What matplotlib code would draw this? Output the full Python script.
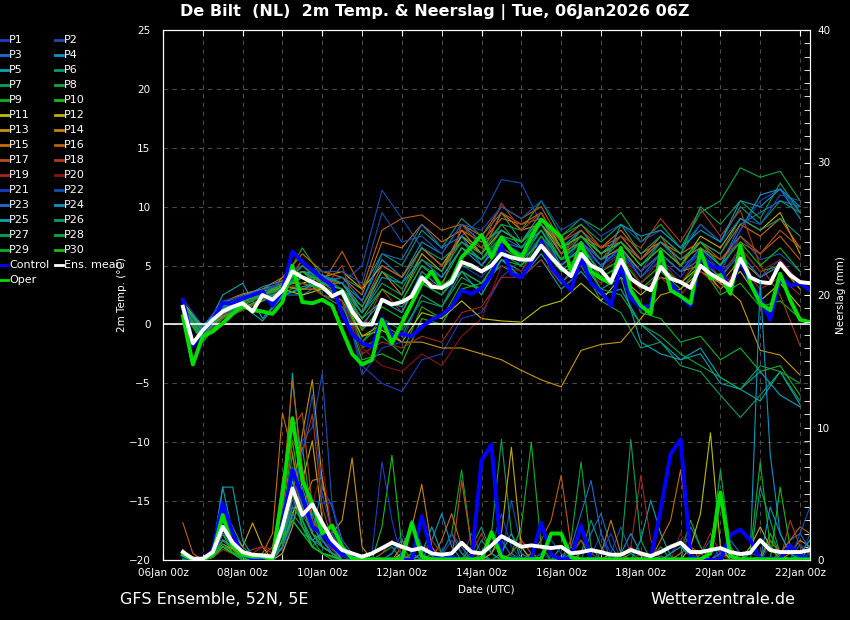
import matplotlib
matplotlib.use("Agg")
import matplotlib.pyplot as plt
import numpy as np
from matplotlib.lines import Line2D
from matplotlib.ticker import MultipleLocator


# forecast steps, days after 06Jan 00z
T6 = np.arange(0.5, 16.26, 0.25)   # 6-hourly (control, oper, mean, precip)
T12 = np.arange(0.5, 16.01, 0.5)   # 12-hourly (member temperatures)

DATE_LABELS = ["06Jan 00z", "08Jan 00z", "10Jan 00z", "12Jan 00z", "14Jan 00z",
               "16Jan 00z", "18Jan 00z", "20Jan 00z", "22Jan 00z"]

# --- 2m temperature, 6-hourly ---
CONTROL_TEMP = [2.1, -1.8, -0.6, 0.4, 1.8, 1.8, 2.2, 2.5, 2.8, 1.6, 2.9, 6.2, 5.3, 4.6, 3.9, 3.3,
                0.9, -0.8, -1.6, -1.9, 0.5, -1.0, -0.8, -1.0, -0.2, 0.4, 0.8, 1.5, 2.9, 2.6, 3.1,
                4.2, 6.7, 4.3, 4.0, 5.3, 7.0, 4.9, 3.8, 2.9, 5.7, 3.5, 2.8, 1.6, 5.0, 2.2, 1.4,
                1.6, 5.7, 3.5, 2.4, 1.6, 5.7, 4.9, 4.8, 2.9, 5.5, 3.5, 2.2, 0.4, 4.0, 3.3, 3.5, 2.9]
OPER_TEMP = [0.7, -3.4, -1.0, -0.6, 0.1, 0.9, 1.6, 1.2, 1.1, 0.9, 1.9, 5.0, 1.9, 1.8, 2.1, 1.6,
             -0.5, -2.5, -3.4, -3.0, 0.4, -1.6, 0.1, 1.8, 3.5, 4.5, 3.1, 3.8, 5.7, 6.6, 7.6,
             5.7, 7.4, 6.3, 5.7, 7.4, 8.9, 8.2, 7.4, 4.5, 6.9, 4.5, 3.9, 3.5, 6.5, 2.9, 1.6,
             0.9, 6.2, 2.9, 2.4, 1.8, 6.3, 3.9, 4.2, 2.6, 6.7, 3.5, 1.8, 1.2, 4.3, 2.1, 0.4, 0.2]
MEAN_TEMP = [1.5, -1.6, -0.5, 0.4, 1.1, 1.5, 1.8, 1.1, 2.5, 2.1, 2.9, 4.5, 4.0, 3.6, 3.2, 2.4,
             2.8, 1.1, 0.0, 0.0, 2.1, 1.7, 1.9, 2.4, 4.0, 3.2, 3.1, 3.6, 5.3, 5.0, 4.5,
             5.0, 6.0, 5.7, 5.5, 5.5, 6.7, 5.7, 4.8, 4.1, 6.0, 5.0, 4.6, 3.6, 5.5, 3.9, 3.3,
             2.9, 4.9, 3.9, 3.6, 3.1, 5.0, 4.3, 3.8, 3.3, 5.6, 4.0, 3.6, 3.5, 5.2, 4.2, 3.6, 3.5]

# --- precipitation (mm / 6h) ---
CONTROL_PRECIP = [0.3, 0, 0, 0.75, 4.3, 2.0, 0.4, 0.1, 0.05, 0.05, 2.8, 6.8, 4.7, 2.5, 2.0, 1.1,
                  0.4, 0.15, 0.05, 0.05, 0.05, 0.05, 0, 0, 3.3, 0.5, 0.1, 0.25, 0, 0, 7.5,
                  8.7, 0.25, 0.1, 0.1, 0.1, 2.8, 0.4, 0.05, 0.1, 2.6, 0.1, 0, 0, 0, 0, 0,
                  0.1, 3.8, 8.0, 9.1, 0.25, 0, 0, 0, 1.9, 2.3, 1.5, 0.1, 0.1, 0.1, 1.1, 0.25, 0.1]
OPER_PRECIP = [0.4, 0, 0, 0.5, 3.4, 1.0, 0.4, 0.25, 0.25, 0.05, 5.0, 10.7, 6.0, 4.3, 2.0, 2.6,
               1.0, 0.1, 0.05, 0.05, 0.05, 0.05, 0.05, 2.8, 0.25, 0.05, 0.05, 0.05, 0.05, 0.05, 0.05,
               2.1, 0.25, 0.05, 0.05, 0.05, 0.1, 2.0, 2.0, 0.2, 0.05, 0.05, 0.05, 0.05, 0.05, 0.05, 0.05,
               0.05, 0.05, 0.05, 0.05, 0.05, 0.05, 0.5, 5.1, 0.3, 0.05, 0.05, 0.05, 0.05, 0.05, 0.05, 0.05, 0.05]
MEAN_PRECIP = [0.6, 0.1, 0.1, 0.6, 2.5, 1.3, 0.6, 0.4, 0.35, 0.25, 2.5, 5.4, 3.4, 4.2, 2.8, 1.5,
               0.75, 0.5, 0.25, 0.5, 0.9, 1.3, 1.0, 0.75, 0.9, 0.5, 0.4, 0.5, 1.3, 0.6, 0.5,
               1.1, 1.8, 1.4, 1.0, 1.1, 1.0, 0.9, 1.0, 0.5, 0.6, 0.75, 0.6, 0.4, 0.4, 0.75, 0.5,
               0.3, 0.6, 1.0, 1.3, 0.6, 0.6, 0.75, 0.9, 0.6, 0.45, 0.55, 1.5, 0.75, 0.6, 0.6, 0.6, 0.75]

# --- members P1..P30, 2m temperature, 12-hourly ---
MEMBER_TEMP = [
    [1.8, -0.6, 1.5, 2.0, 2.3, 3.0, 3.5, 3.0, 2.0, -3.5, -5.0, -5.7, -3.0, -2.5, 0.5, 1.0, 4.0, 5.5, 7.0, 5.0, 6.5, 5.0, 6.0, 4.0, 5.5, 4.0, 6.5, 4.5, 6.0, 4.0, 5.5, 3.5],
    [1.5, -0.3, 1.0, 1.5, 3.0, 3.5, 4.0, 4.0, 3.5, 5.0, 11.4, 9.0, 6.5, 5.0, 7.5, 9.0, 12.3, 12.0, 8.5, 6.0, 7.0, 5.0, 6.5, 4.5, 7.0, 5.0, 6.0, 4.5, 7.5, 5.5, 6.0, 4.5],
    [1.2, -0.8, 0.8, 1.5, 2.0, 2.5, 2.5, 3.5, 3.0, 1.0, 3.0, 2.0, 5.0, 4.0, 6.5, 5.5, 7.0, 6.5, 8.0, 5.5, 7.0, 5.5, 6.5, 4.5, 6.0, 4.5, 6.5, 5.0, 8.5, 9.5, 10.5, 10.0],
    [1.6, -0.2, 1.8, 2.5, 3.0, 3.5, 4.5, 4.0, 3.5, 2.0, 5.5, 4.0, 7.0, 6.0, 8.5, 7.0, 8.0, 7.0, 9.5, 6.5, 8.0, 6.0, 7.5, 5.5, 7.0, 5.5, 6.5, 5.0, 8.0, 11.0, 11.5, 9.0],
    [1.3, -1.0, 2.5, 3.5, 0.5, 2.5, 3.0, 3.5, 2.5, 0.5, 2.0, 1.5, 3.5, 2.5, 4.5, 3.5, 5.0, 4.0, 5.5, 3.0, 4.5, 2.5, 3.0, 0.0, -1.5, -3.0, -2.0, -4.5, -5.5, -6.5, -4.0, -6.8],
    [1.4, -0.4, 1.2, 2.2, 2.5, 3.2, 3.0, 3.5, 4.0, 3.0, 6.0, 5.0, 8.0, 6.5, 9.0, 7.5, 9.5, 7.0, 9.0, 6.0, 8.0, 6.0, 7.0, 5.5, 7.5, 6.0, 8.5, 7.0, 10.0, 8.5, 10.5, 9.5],
    [1.0, -1.2, 0.5, 1.2, 2.0, 2.8, 5.5, 2.5, 1.5, -1.5, 0.5, -0.5, 2.0, 1.5, 4.0, 3.0, 5.5, 4.5, 7.5, 4.5, 5.0, 2.0, 1.0, -2.0, -1.5, -3.5, -4.0, -6.0, -7.9, -6.0, -4.0, -6.5],
    [1.7, -0.5, 1.4, 1.8, 2.7, 3.5, 6.5, 4.0, 3.0, 1.5, 4.5, 3.0, 6.0, 4.5, 7.5, 6.5, 8.5, 8.0, 10.5, 7.5, 9.0, 8.0, 9.5, 7.0, 8.5, 6.5, 9.5, 10.5, 13.3, 12.5, 13.0, 10.5],
    [1.1, -0.7, 0.9, 1.6, 2.4, 2.6, 3.5, 3.0, 2.5, -2.0, -1.0, -2.5, 1.5, 0.5, 3.5, 3.0, 5.5, 5.0, 6.5, 4.5, 6.0, 4.0, 5.0, 3.0, 4.5, 3.0, 5.0, 2.5, 3.5, 1.5, 2.0, 0.5],
    [1.0, -1.5, 0.6, 1.3, 2.0, 3.0, 4.0, 2.5, 2.0, -3.0, -2.5, -3.3, 0.5, 0.0, 3.0, 3.5, 6.0, 5.5, 7.0, 5.0, 6.5, 4.5, 5.5, 3.5, 5.0, 3.5, 5.5, 4.0, 6.5, 4.5, 5.0, 3.0],
    [1.5, -0.5, 1.0, 2.0, 2.5, 3.0, 2.5, 3.0, 2.5, -1.0, -0.5, -1.5, 1.0, 0.5, 2.0, 0.5, 0.3, 0.2, 1.5, 2.0, 3.5, 2.0, 4.0, 2.5, 4.0, 3.5, 5.0, 3.0, 4.5, 2.0, 3.5, 1.5],
    [1.9, -0.2, 1.6, 2.3, 2.7, 3.5, 3.5, 4.0, 4.5, 3.0, 5.0, 4.0, 6.5, 5.0, 7.5, 6.0, 8.0, 7.0, 8.5, 6.5, 7.5, 6.0, 7.0, 5.0, 6.5, 5.0, 7.5, 6.5, 9.0, 8.0, 9.5, 6.0],
    [1.6, -0.6, 1.3, 1.9, 2.6, 3.2, 3.0, 3.0, 2.0, -1.0, 0.0, -1.5, -1.5, -2.0, -2.0, -2.5, -3.0, -3.9, -4.7, -5.3, -2.2, -1.7, -1.5, 0.5, 2.5, 3.0, 4.5, 3.5, 2.0, -2.2, -2.6, -4.3],
    [1.2, -0.9, 0.7, 1.4, 2.2, 4.0, 4.5, 3.5, 3.5, 1.0, 4.5, 2.5, 6.0, 4.5, 8.0, 6.0, 9.5, 8.0, 8.5, 6.0, 7.0, 5.5, 6.5, 4.5, 6.0, 4.5, 5.0, 3.5, 5.5, 4.0, 5.0, 3.0],
    [1.8, -0.4, 1.9, 2.6, 3.0, 4.0, 6.0, 4.5, 4.0, 2.5, 7.0, 6.5, 8.5, 7.0, 8.0, 7.0, 9.0, 8.5, 9.5, 6.5, 7.5, 6.5, 8.0, 6.0, 7.0, 6.0, 7.0, 6.0, 8.5, 7.5, 9.0, 6.5],
    [1.4, -0.7, 1.1, 2.1, 2.5, 3.5, 5.0, 3.5, 6.2, 3.0, 8.0, 9.0, 9.3, 8.0, 8.5, 7.5, 10.0, 9.0, 10.0, 7.0, 8.5, 6.5, 7.5, 5.5, 7.0, 5.5, 6.5, 5.5, 7.5, 6.0, 7.5, 5.5],
    [1.6, -0.5, 1.3, 2.0, 2.8, 3.3, 4.0, 3.8, 3.5, 1.5, 5.0, 4.0, 6.5, 5.0, 7.0, 6.0, 9.5, 8.5, 9.0, 7.0, 8.0, 6.5, 7.0, 5.5, 7.5, 5.0, 7.0, 5.5, 7.0, 6.0, 8.0, 6.5],
    [1.3, -0.9, 0.9, 1.8, 2.4, 3.0, 5.5, 3.0, 5.0, -0.5, 3.0, 1.0, 4.0, 3.0, 8.5, 6.5, 10.3, 8.0, 9.5, 6.0, 7.5, 5.5, 7.5, 6.5, 9.0, 7.0, 9.8, 7.5, 9.7, 5.0, 2.5, -1.8],
    [1.1, -1.0, 0.5, 1.2, 2.1, 3.0, 3.5, 2.5, 2.0, -2.5, -1.5, -2.0, -1.0, -1.5, 1.0, 1.5, 4.0, 4.0, 5.5, 3.5, 5.0, 3.5, 4.5, 3.0, 4.0, 2.5, 4.5, 3.0, 5.0, 3.0, 4.0, 2.5],
    [1.5, -0.8, 1.2, 1.7, 2.6, 3.8, 5.0, 3.3, 2.5, -2.0, -3.5, -4.0, -2.5, -3.5, -1.0, 0.5, 5.0, 4.5, 7.0, 5.0, 6.5, 4.5, 6.0, 3.5, 5.5, 3.5, 6.0, 4.0, 6.5, 4.5, 5.5, 3.5],
    [2.2, -0.2, 2.0, 2.4, 2.9, 3.4, 4.0, 3.8, 3.0, -4.3, -2.0, -1.5, 2.5, 1.5, 5.0, 4.0, 6.0, 5.5, 7.5, 5.0, 7.0, 5.5, 6.0, 4.5, 6.0, 4.5, 6.0, 4.5, 8.0, 10.5, 11.5, 9.5],
    [1.3, -0.3, 1.7, 2.2, 2.8, 3.6, 5.0, 4.5, 4.5, 3.5, 9.5, 7.0, 7.5, 6.0, 8.5, 8.0, 10.0, 9.0, 10.5, 8.0, 9.0, 7.5, 8.5, 7.0, 8.0, 6.5, 8.5, 7.0, 9.0, 8.5, 11.0, 10.5],
    [1.5, -0.6, 1.4, 2.0, 2.4, 3.1, 4.5, 3.7, 4.0, 2.0, 6.0, 5.5, 8.5, 6.5, 7.5, 5.0, 7.5, 6.5, 8.0, 5.5, 7.0, 5.0, 6.5, 4.0, 6.0, 4.5, 5.5, 4.0, 6.0, 4.0, 5.0, 3.5],
    [1.7, -0.1, 1.5, 2.3, 3.2, 3.7, 4.5, 4.2, 3.5, 1.0, 4.0, 3.5, 5.5, 4.0, 6.5, 5.0, 7.0, 6.0, 8.0, 5.0, 6.5, 4.5, 8.5, 7.5, 8.0, 6.5, 8.0, 7.0, 10.5, 10.0, 11.5, 10.0],
    [1.2, -1.1, 1.0, 1.6, 0.3, 2.4, 3.2, 3.5, 3.0, 0.0, 2.0, 1.0, 4.5, 3.0, 4.5, 2.5, 5.5, 4.0, 6.0, 3.5, 5.5, 3.0, 4.0, -1.5, -2.5, -3.0, -2.5, -5.0, -5.5, -4.0, -6.0, -7.0],
    [1.6, -0.5, 1.6, 2.3, 2.8, 3.3, 4.0, 4.0, 3.5, 1.5, 4.5, 3.5, 6.5, 5.5, 7.0, 5.5, 8.0, 7.0, 8.5, 5.5, 7.5, 5.5, 7.0, 5.0, 7.0, 5.5, 7.0, 6.0, 9.0, 8.0, 9.0, 7.5],
    [1.3, -0.8, 1.0, 1.7, 2.5, 3.0, 5.0, 3.5, 3.0, 1.0, 3.5, 2.5, 5.5, 4.5, 7.0, 6.0, 8.5, 6.5, 9.0, 7.5, 8.5, 7.0, 8.5, 6.0, 7.5, 6.0, 10.0, 8.5, 10.5, 9.0, 12.0, 9.5],
    [1.0, -1.3, 0.6, 1.3, 2.2, 2.8, 4.5, 3.0, 2.5, -1.5, 0.0, -1.0, 2.5, 1.5, 4.5, 3.5, 6.0, 5.0, 7.5, 5.5, 6.0, 3.0, 2.5, 0.0, -1.0, -2.5, -3.5, -4.5, -5.5, -3.5, -4.0, -5.0],
    [1.4, -0.9, 1.1, 1.9, 2.6, 3.1, 4.0, 3.2, 2.5, -0.5, 1.5, 0.5, 3.5, 2.5, 5.0, 4.5, 6.5, 5.5, 8.0, 5.5, 7.0, 4.0, 5.0, 1.0, 0.5, -1.5, -1.0, -3.0, -2.0, -4.0, -3.5, -6.0],
    [1.7, -0.4, 1.3, 2.0, 2.5, 3.4, 4.5, 3.5, 3.0, 0.5, 3.0, 2.0, 5.0, 3.5, 6.5, 5.5, 7.5, 7.0, 9.0, 6.5, 7.5, 6.0, 7.0, 5.0, 6.5, 5.0, 7.0, 5.0, 7.0, 5.0, 6.5, 4.5],
]

# --- members P1..P30, precipitation, 6-hourly ---
MEMBER_PRECIP = [
    [0.2, 0, 0, 0.5, 2.5, 1.5, 0.3, 0, 0, 0, 1.5, 4.0, 6.5, 3.0, 1.5, 0.8,
     0.3, 0, 0, 0.2, 0, 0.5, 2.0, 0.5, 0, 0, 0.3, 1.5, 0.5, 0, 0.2, 1.0,
     3.5, 1.0, 0, 0, 0.5, 0, 0, 0, 0, 0.3, 2.0, 0.5, 0, 0, 0, 0,
     0, 0.5, 1.5, 0.2, 0, 0, 0.8, 0.3, 0, 0, 0, 1.0, 0.3, 0, 0, 0.5],
    [0, 0, 0, 0.3, 1.5, 0.8, 0.2, 0, 0, 0, 0.5, 3.0, 9.0, 10.0, 14.1, 4.0,
     1.0, 0.3, 0, 0, 0, 0, 0, 0, 0.5, 0, 0, 0, 0, 2.0, 0.5, 0,
     0, 4.5, 1.0, 0, 0, 0, 0.3, 0, 0, 0, 0, 0.5, 2.5, 0.5, 0, 0,
     0, 0, 0, 0, 0.4, 1.5, 0, 0, 0, 0.5, 0.3, 0, 0, 0, 1.2, 0.3],
    [0.3, 0, 0, 0.4, 3.0, 1.2, 0.5, 0.2, 0, 0.1, 2.0, 6.0, 4.5, 2.0, 5.5, 4.0,
     1.5, 0.5, 0.2, 0, 0, 0, 0.5, 3.0, 1.0, 0.5, 0, 0, 0, 0, 0, 0.5,
     1.5, 0.3, 0, 0, 0, 0, 0, 0, 0, 2.0, 3.5, 1.0, 0, 0, 0, 0,
     0.3, 0, 0, 2.5, 1.0, 0, 0, 0, 0, 0, 0.3, 0, 0.5, 1.5, 2.0, 0.8],
    [0.1, 0, 0, 0.3, 2.0, 1.0, 0.3, 0, 0, 0, 1.0, 3.5, 5.5, 3.0, 2.0, 1.0,
     0.5, 0, 0, 0, 0, 0, 0.3, 0, 0, 1.5, 3.5, 1.0, 0, 0, 0, 0,
     0, 0, 0, 0.5, 0, 0, 0, 0, 0, 0, 0, 0, 0, 0, 0.5, 0,
     0, 0, 0, 0, 0, 0, 0.5, 0.2, 0, 0.5, 21.0, 8.0, 2.0, 0.5, 0, 1.0],
    [0.5, 0, 0.1, 0.8, 5.5, 2.0, 0.5, 0, 0, 0, 3.0, 14.1, 6.0, 3.5, 1.5, 0.5,
     0.3, 0, 0, 0, 0, 0, 0, 0.5, 1.0, 0.3, 0, 0, 0, 0, 0.3, 0,
     0.5, 2.0, 0.5, 0, 0, 0, 1.0, 0.3, 0, 0, 0, 0, 0, 0, 1.5, 4.5,
     2.0, 0.3, 0, 0, 0, 0, 0, 0, 0, 0, 0, 1.5, 0.5, 0, 0, 0],
    [0, 0, 0, 0.5, 4.0, 2.5, 1.0, 0.3, 0, 0, 1.0, 5.0, 3.5, 2.0, 1.0, 0.5,
     0, 0, 0, 0, 0, 0, 0, 0, 0, 0, 0.5, 2.0, 0.5, 0, 1.5, 0.5,
     0, 0.5, 0, 0, 0, 0, 0, 0, 0.5, 3.0, 1.0, 0, 0, 0, 0, 0,
     0, 0, 0, 0, 0, 0, 0, 0, 0, 0, 5.5, 3.0, 0.5, 0, 0, 0],
    [0.3, 0, 0, 0.2, 1.0, 0.5, 0.3, 0, 0, 0, 2.5, 8.0, 3.0, 1.0, 2.0, 1.0,
     0.5, 0, 0, 0, 0, 0, 0, 0, 0, 0, 0, 0, 0, 0, 0.5, 2.0,
     9.1, 2.0, 0, 0, 0, 0, 0, 0, 0, 0, 0, 0, 0, 0.5, 0, 0,
     1.0, 0, 0, 0, 0, 0, 0, 0, 0, 0, 0, 0, 0, 0, 0, 0],
    [0.2, 0, 0, 0.3, 1.5, 0.8, 0, 0, 0, 0, 1.5, 5.0, 2.5, 1.5, 0.5, 0.3,
     0, 0, 0, 0, 0.5, 1.0, 0, 0, 0, 0, 0.5, 2.0, 6.8, 1.0, 0, 0,
     0, 0, 0, 0.5, 0, 0, 0, 1.5, 7.4, 1.0, 0, 0, 0, 0, 0, 0,
     0, 0, 0, 0, 0, 0, 0, 0, 0.5, 0, 0, 0, 0, 0, 0, 0],
    [0, 0, 0, 0.2, 0.8, 0.5, 0, 0, 0, 0, 2.0, 6.0, 8.5, 3.0, 1.0, 0.5,
     0, 0, 0, 0, 0, 0, 0, 0, 0, 0.5, 0, 0, 0, 0, 0, 0,
     0, 0.5, 2.5, 8.9, 1.0, 0, 0, 0, 0, 0, 0, 0, 0, 0, 0, 0,
     0, 0, 0.5, 3.0, 1.0, 0, 0, 0, 0, 0, 0, 0, 0, 0, 0, 0],
    [0.3, 0, 0, 0.2, 2.0, 0.5, 0.2, 0, 0, 0, 3.0, 9.0, 4.0, 2.0, 1.5, 0.5,
     0, 0, 0, 0, 2.5, 7.9, 1.0, 0, 0, 0, 0, 0, 0, 0, 0, 0,
     0, 0, 0, 0, 0, 0, 0, 0.5, 1.5, 0, 0, 0, 0, 0, 0, 0,
     0, 0, 0, 0, 0, 0, 0, 0, 0, 0, 0, 2.0, 0.5, 0, 0, 0],
    [0, 0, 0, 0.3, 1.5, 1.0, 0.5, 0, 0, 0, 1.0, 3.5, 5.0, 2.0, 1.0, 0.5,
     0, 0, 0, 0, 0, 0, 0.5, 0, 0, 0, 0, 0, 0, 0, 0, 0,
     0, 0, 0, 0, 0, 0, 0, 0, 0, 0, 0, 0, 0, 0, 0, 0,
     0, 0, 0, 1.0, 3.5, 9.6, 1.0, 0, 0, 0, 0, 0, 0, 0, 0, 0],
    [0.2, 0, 0, 0.5, 2.5, 2.0, 1.0, 2.8, 1.0, 0, 0.5, 2.5, 6.0, 9.0, 3.0, 1.0,
     0, 0, 0, 0, 0, 0, 0, 0, 0, 0, 0, 0, 0, 0, 0, 0.5,
     2.0, 8.5, 1.0, 0, 0, 0, 0, 0, 0, 0, 0, 0, 0, 0, 0, 0,
     0, 0, 0, 0, 0, 0, 0, 0, 0, 1.0, 2.5, 1.0, 0, 0, 0, 0],
    [0.3, 0, 0, 0.4, 1.2, 0.8, 0.2, 0, 0, 0, 1.0, 5.0, 9.5, 13.6, 6.0, 2.0,
     3.0, 7.7, 1.0, 0, 0, 0, 0, 0, 0, 0, 0, 0, 0, 0, 0, 0,
     0, 0, 0, 0, 0, 0, 0, 0, 0, 0, 0, 0.5, 0, 0, 0, 0,
     0, 0, 0, 0, 0, 0, 0, 0, 0, 0, 0, 0, 0.3, 0, 0, 0],
    [0.5, 0, 0, 0.3, 2.0, 1.5, 0.5, 0, 0, 0, 2.5, 7.0, 4.0, 6.0, 6.2, 2.0,
     0.5, 0, 0, 0, 0, 0, 1.0, 2.5, 5.7, 1.0, 0, 0, 0, 0, 0, 0,
     0, 0, 0, 0, 0, 0, 0, 0, 0, 0, 0.5, 3.0, 0.5, 0, 0, 0,
     0, 0, 0, 0, 0, 0, 0, 0, 0, 0, 0, 0, 0, 0.5, 1.5, 1.0],
    [0.8, 0, 0, 0.3, 1.0, 0.5, 0.3, 0, 0.5, 2.0, 11.1, 8.0, 4.0, 2.0, 1.0, 0.5,
     0, 0, 0, 0, 0, 0, 0, 0, 0, 0, 1.5, 3.5, 1.0, 0, 0, 0,
     0, 0, 0, 0, 0, 0, 0, 0, 0, 0, 0, 0, 0, 0, 0, 0,
     1.5, 3.0, 6.8, 1.0, 0, 0, 0, 0, 0, 0, 0, 0, 0, 0, 0, 0],
    [2.8, 0.5, 0, 0.3, 1.5, 1.0, 0.5, 0.2, 0.3, 1.0, 5.0, 13.5, 7.0, 3.0, 2.0, 1.0,
     0.5, 0, 0, 0, 0, 0, 0, 0, 0, 0, 0, 0, 0, 0, 0, 0,
     0, 0, 0, 0.5, 1.5, 3.0, 6.4, 1.0, 0, 0, 0, 0, 0, 0, 0, 0,
     0, 0, 0, 0, 0, 0, 0, 0, 0, 0, 0, 0, 0.5, 1.5, 2.5, 2.0],
    [0.5, 0, 0, 0.2, 1.0, 0.8, 0.3, 0, 0.2, 0.5, 6.0, 10.0, 11.1, 4.0, 2.0, 0.8,
     0.3, 0, 0, 0, 0, 0, 0, 0, 0, 0, 0, 0, 6.0, 1.0, 0, 0,
     0, 0.5, 1.5, 0.5, 0, 0, 0, 0, 0, 0, 0, 0, 0.3, 1.0, 0.3, 0,
     0, 0, 0.5, 1.0, 0.5, 0, 0, 0, 0, 0, 0.3, 1.5, 0.5, 0, 0, 0],
    [0.3, 0, 0, 0.2, 1.5, 1.0, 0.5, 0.8, 1.0, 0.5, 4.0, 9.0, 8.0, 11.0, 4.0, 1.5,
     0.5, 0, 0, 0, 0.5, 1.5, 0.5, 0, 0, 0, 0, 0, 0, 0.5, 2.0, 0.5,
     0, 0, 0, 0, 0, 0, 0, 0.3, 1.5, 0.5, 0, 0, 0, 0, 0, 0,
     0, 0, 0, 0, 0, 0, 0, 0, 0, 0, 0, 0, 0, 3.0, 1.0, 0.5],
    [0, 0, 0, 0.2, 0.8, 0.5, 0.3, 0.5, 1.0, 0.8, 3.0, 6.0, 4.0, 3.0, 2.0, 0.8,
     0, 0, 0, 0, 0, 0, 0, 0, 0.5, 1.5, 0.5, 0, 0, 0, 0, 0,
     0, 0, 0, 0, 0, 0, 0, 0, 0, 0, 0, 0, 0, 1.0, 6.4, 1.5,
     0, 0, 0, 0, 0.5, 2.0, 0.5, 0, 0, 0, 0, 0, 0, 0, 0, 0],
    [0.2, 0, 0, 0.3, 1.0, 0.5, 0.2, 0, 0, 0, 2.0, 5.0, 3.0, 4.0, 7.3, 2.0,
     0.5, 0, 0, 0, 0, 0, 0, 0, 0, 0, 0, 0, 0, 0, 0, 0,
     0, 0, 0, 0, 0, 0, 0, 0, 0, 0, 0, 0, 0, 0, 0.5, 0,
     0, 0, 2.0, 0.5, 0, 0, 0, 0, 0, 0, 0, 0, 0, 0, 0, 0],
    [0.5, 0, 0, 0.5, 3.5, 1.0, 0.3, 0, 0, 0, 1.0, 4.0, 3.0, 4.5, 4.3, 4.3,
     1.0, 0, 0, 0.5, 7.4, 3.0, 0, 0, 0, 0, 0, 0, 0, 0, 0, 0,
     0, 0, 0, 0, 0, 0, 0, 0, 0, 0, 0.5, 2.0, 0, 0, 0, 0,
     0, 0, 0, 0, 0, 0, 0, 0, 0, 0, 0, 0, 0, 0, 0, 2.0],
    [0.2, 0, 0, 0.3, 2.0, 1.5, 0.5, 0, 0, 0, 2.0, 6.0, 8.0, 12.5, 5.0, 2.0,
     0.5, 0, 0, 0, 0, 0, 0, 0, 0, 0, 0.5, 2.0, 1.0, 0, 0, 0,
     0, 0, 0, 0, 0.5, 1.5, 0.5, 0, 0, 0, 0, 0, 0, 0, 0, 0,
     0, 0, 0, 0, 0, 0, 0, 0, 0, 0, 0, 0, 0, 0, 2.0, 4.0],
    [0, 0, 0, 0.3, 1.5, 1.0, 0.3, 0, 0, 0, 1.5, 4.5, 5.0, 2.5, 1.5, 0.5,
     0, 0, 0, 0, 0, 0, 0, 0, 0, 0, 0, 0, 0, 0, 0, 0,
     0, 0, 0, 0, 0, 0, 0, 1.0, 3.5, 6.0, 2.0, 0, 0, 0, 0, 0,
     0, 0, 0, 0, 0, 0, 0.5, 1.5, 0.5, 0, 0, 0, 0, 0, 0, 0],
    [0.3, 0, 0, 0.4, 2.5, 1.5, 0.5, 0, 0, 0, 1.0, 3.0, 2.0, 1.5, 1.0, 0.5,
     0, 0, 0, 0, 0, 0.5, 1.5, 0.5, 0, 0, 0, 0, 0, 0, 0, 0,
     0, 0, 0, 0, 0, 0, 0, 0, 0, 0, 0, 0, 0.5, 2.0, 0.5, 0,
     0, 0, 0, 0, 0, 0, 0, 0, 0, 0, 0, 4.0, 2.0, 0.5, 0, 0],
    [0.5, 0, 0, 0.5, 5.5, 5.5, 1.5, 0.3, 0, 0, 1.5, 6.0, 3.0, 1.5, 2.0, 1.0,
     0, 0, 0, 0, 0, 0, 0, 0, 0.5, 2.5, 0.5, 0, 0, 0, 0, 0,
     0, 0, 0, 0, 0, 0, 0, 0, 0, 0, 0, 0, 0, 0, 0, 0,
     0, 0.5, 1.0, 0.3, 0, 0, 0, 0, 0, 0, 0, 0, 0, 0, 0.5, 1.5],
    [0, 0, 0, 0.3, 1.0, 0.5, 0, 0, 0, 0, 1.0, 3.5, 2.5, 1.0, 0.5, 0.3,
     0, 0, 0, 0, 0, 0, 0, 0, 0, 0, 0, 0, 0, 1.0, 2.5, 0.5,
     0, 0, 0, 0, 0, 0, 0, 0, 0, 0, 0, 0, 0, 0, 0, 0,
     0, 0, 0, 0, 0, 0, 0, 0, 0, 0, 0, 0, 0, 0, 0, 0],
    [0.2, 0, 0, 0.3, 1.5, 1.0, 0.2, 0, 0, 0, 2.0, 7.0, 4.0, 2.0, 1.0, 0.5,
     0, 0, 0, 0, 0, 0, 0, 0, 0, 0, 0, 0, 0, 0, 0, 0,
     0, 0, 0, 0, 0, 0, 0, 0, 0, 0, 0, 0, 0.5, 9.1, 1.5, 0,
     0, 0, 0, 0, 0, 0, 0, 0, 0, 0, 0, 0, 0, 0, 0, 0],
    [0, 0, 0, 0.2, 1.0, 0.5, 0, 0, 0, 0, 1.5, 4.0, 3.0, 1.0, 0.5, 0,
     0, 0, 0, 0, 0, 0, 0, 0, 0, 0, 0, 0, 0, 0, 0, 0,
     0, 0, 0, 0, 0, 0, 0, 0, 0, 0, 0, 0, 0, 0, 0, 0,
     0, 0, 0, 0, 0, 0.5, 6.8, 1.0, 0, 0, 0, 0, 0, 0, 0, 0],
    [0.3, 0, 0, 0.3, 1.2, 0.6, 0.2, 0, 0, 0, 2.0, 5.5, 2.5, 1.0, 0.5, 0.2,
     0, 0, 0, 0, 0, 0, 0, 0, 0, 0, 0, 0, 0, 0, 0, 0,
     0, 0, 0, 0, 0, 0, 0, 0, 0, 0, 0, 0, 0, 0, 0, 0,
     0, 0, 0, 0, 0, 0, 0, 0, 0, 0.5, 7.4, 1.0, 0, 0, 0, 0],
    [0, 0, 0, 0.3, 1.0, 0.5, 0.2, 0, 0, 0, 1.5, 3.0, 2.0, 1.0, 0.5, 0.3,
     0, 0, 0, 0, 0, 0, 0, 0, 0, 0, 0, 0, 0, 0, 0, 0,
     0, 0, 0, 0, 0, 0, 0, 0, 0, 0, 0, 0, 0, 0, 0, 0,
     0, 0, 0, 0, 0, 0, 0, 0, 0, 0, 0, 0, 5.5, 1.0, 0, 0],
]

BASE_COLORS = ["#1e3cc8", "#1450b4", "#1a6ec8", "#0a96c8", "#0aa5b4",
               "#0a9a78", "#0aa05a", "#0aaa3c", "#0ab428", "#14be14",
               "#bebe0a", "#c8aa0a", "#c8960a", "#c8820a", "#c86e0a",
               "#be5f0a", "#b4501e", "#aa3c1e", "#a02a1e", "#8c1414"]
MEMBER_NAMES = [f"P{i}" for i in range(1, 31)]
MEMBER_COLORS = BASE_COLORS + BASE_COLORS[:10]

CONTROL_COLOR = "#0000ff"
OPER_COLOR = "#00dd00"
MEAN_COLOR = "#ffffff"

W, H = 850, 620
fig = plt.figure(figsize=(W / 100, H / 100), dpi=100, facecolor="black")
ax = fig.add_axes([163 / W, 1 - 560 / H, (810 - 163) / W, 530 / H])
ax.set_facecolor("black")

# temperature
for temps, col in zip(MEMBER_TEMP, MEMBER_COLORS):
    ax.plot(T12, temps, color=col, lw=0.8, zorder=2)
ax.axhline(0, color="white", lw=1.2, zorder=2.5)
ax.plot(T6, CONTROL_TEMP, color=CONTROL_COLOR, lw=2.8, zorder=3)
ax.plot(T6, OPER_TEMP, color=OPER_COLOR, lw=2.8, zorder=3.1)
ax.plot(T6, MEAN_TEMP, color=MEAN_COLOR, lw=2.8, zorder=3.2)

ax.set_xlim(0, 16.25)
ax.set_ylim(-20, 25)
ax.set_yticks(np.arange(-20, 26, 5))
ax.set_xticks(np.arange(0, 17, 2))
ax.set_xticklabels(DATE_LABELS)
ax.xaxis.set_minor_locator(MultipleLocator(1))
ax.grid(which="both", axis="x", color="#4a4a4a", lw=0.8, ls=(0, (4, 4)))
ax.grid(which="major", axis="y", color="#4a4a4a", lw=0.8, ls=(0, (4, 4)))
ax.set_axisbelow(True)
ax.tick_params(axis="x", which="both", direction="in", top=True, length=4,
               color="white", labelcolor="white", labelsize=7.5, pad=6)
ax.tick_params(axis="y", length=0, labelcolor="white", labelsize=7.5, pad=9)
ax.set_ylabel("2m Temp. (°C)", color="white", fontsize=7.5, labelpad=1)
for s in ax.spines.values():
    s.set_color("white")

# precipitation
ax2 = ax.twinx()
for pr, col in zip(MEMBER_PRECIP, MEMBER_COLORS):
    ax2.plot(T6, pr, color=col, lw=0.8, zorder=2)
ax2.plot(T6, CONTROL_PRECIP, color=CONTROL_COLOR, lw=2.8, zorder=3)
ax2.plot(T6, OPER_PRECIP, color=OPER_COLOR, lw=2.8, zorder=3.1)
ax2.plot(T6, MEAN_PRECIP, color=MEAN_COLOR, lw=2.8, zorder=3.2)
ax2.set_ylim(0, 40)
ax2.set_yticks([0, 10, 20, 30, 40])
ax2.yaxis.set_minor_locator(MultipleLocator(1))
ax2.tick_params(axis="y", which="both", direction="in", length=4, color="white",
                labelcolor="white", labelsize=7.5, pad=5)
ax2.set_ylabel("Neerslag (mm)", color="white", fontsize=7.5, labelpad=4)
for s in ax2.spines.values():
    s.set_color("white")

fig.text(486 / W, 1 - 589 / H, "Date (UTC)", color="white", fontsize=7.5,
         ha="center", va="center")
fig.text(435 / W, 1 - 12 / H, "De Bilt  (NL)  2m Temp. & Neerslag | Tue, 06Jan2026 06Z",
         color="white", fontsize=11.5, fontweight="bold", ha="center", va="center")
fig.text(120 / W, 1 - 599 / H, "GFS Ensemble, 52N, 5E", color="white", fontsize=11.5,
         ha="left", va="center")
fig.text(650 / W, 1 - 599 / H, "Wetterzentrale.de", color="white", fontsize=11.5,
         ha="left", va="center")

# legend, two columns, row-major
entries = list(zip(MEMBER_NAMES, MEMBER_COLORS))
entries += [("Control", CONTROL_COLOR), ("Ens. mean", MEAN_COLOR), ("Oper", OPER_COLOR)]
for i, (name, col) in enumerate(entries):
    row, c = divmod(i, 2)
    x0 = 0 if c == 0 else 55
    y = 1 - (40 + 15 * row) / H
    fig.add_artist(Line2D([x0 / W, (x0 + 8) / W], [y, y], transform=fig.transFigure,
                          color=col, lw=2))
    fig.text((x0 + 9) / W, y, name, color="white", fontsize=8, ha="left", va="center")

fig.savefig("out.png", dpi=100, facecolor="black")
